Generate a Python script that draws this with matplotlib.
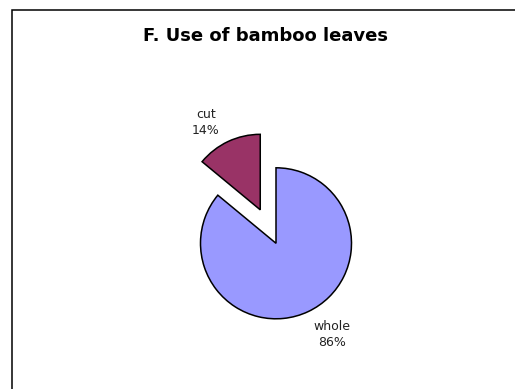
import matplotlib.pyplot as plt
from matplotlib.patches import Rectangle

# data
LABELS = ["whole", "cut"]
SHARES = [86, 14]
COLORS = ["#9999FF", "#993366"]
EXPLODE = [0.0, 0.49]   # fraction of the radius

W, H = 515, 389
fig = plt.figure(figsize=(W / 100, H / 100), dpi=100)
fig.patch.set_facecolor("white")
ax = fig.add_axes([0, 0, 1, 1])

# work in pixel-like units so layout matches the reference
cx, cy, R = 276, H - 243.3, 75.5
ax.pie(SHARES, colors=COLORS, explode=[e * R for e in EXPLODE], startangle=90,
       counterclock=False, center=(cx, cy), radius=R,
       wedgeprops=dict(edgecolor="black", linewidth=1.1))
ax.set_xlim(0, W)
ax.set_ylim(0, H)
ax.set_aspect("equal")
ax.axis("off")

# category labels (placed like the Excel outside labels)
label_pos = {"whole": (331.8, H - 334.5), "cut": (205.7, H - 122.5)}
for name, share in zip(LABELS, SHARES):
    x, y = label_pos[name]
    ax.text(x, y, f"{name}\n{share}%", ha="center", va="center",
            multialignment="center", fontsize=9, linespacing=1.25,
            color="#222222", family="DejaVu Sans")

ax.text(265.5, H - 40.7, "F. Use of bamboo leaves", ha="center", va="baseline",
        fontsize=13, fontweight="bold", color="black", family="DejaVu Sans")

# chart-area frame (runs off the right and bottom edges)
fig.add_artist(Rectangle((11.7 / W, -0.1), 1.2, 1.1 - 10 / H,
                         transform=fig.transFigure, fill=False,
                         edgecolor="black", linewidth=1.1))

fig.savefig("out.png", dpi=100)
